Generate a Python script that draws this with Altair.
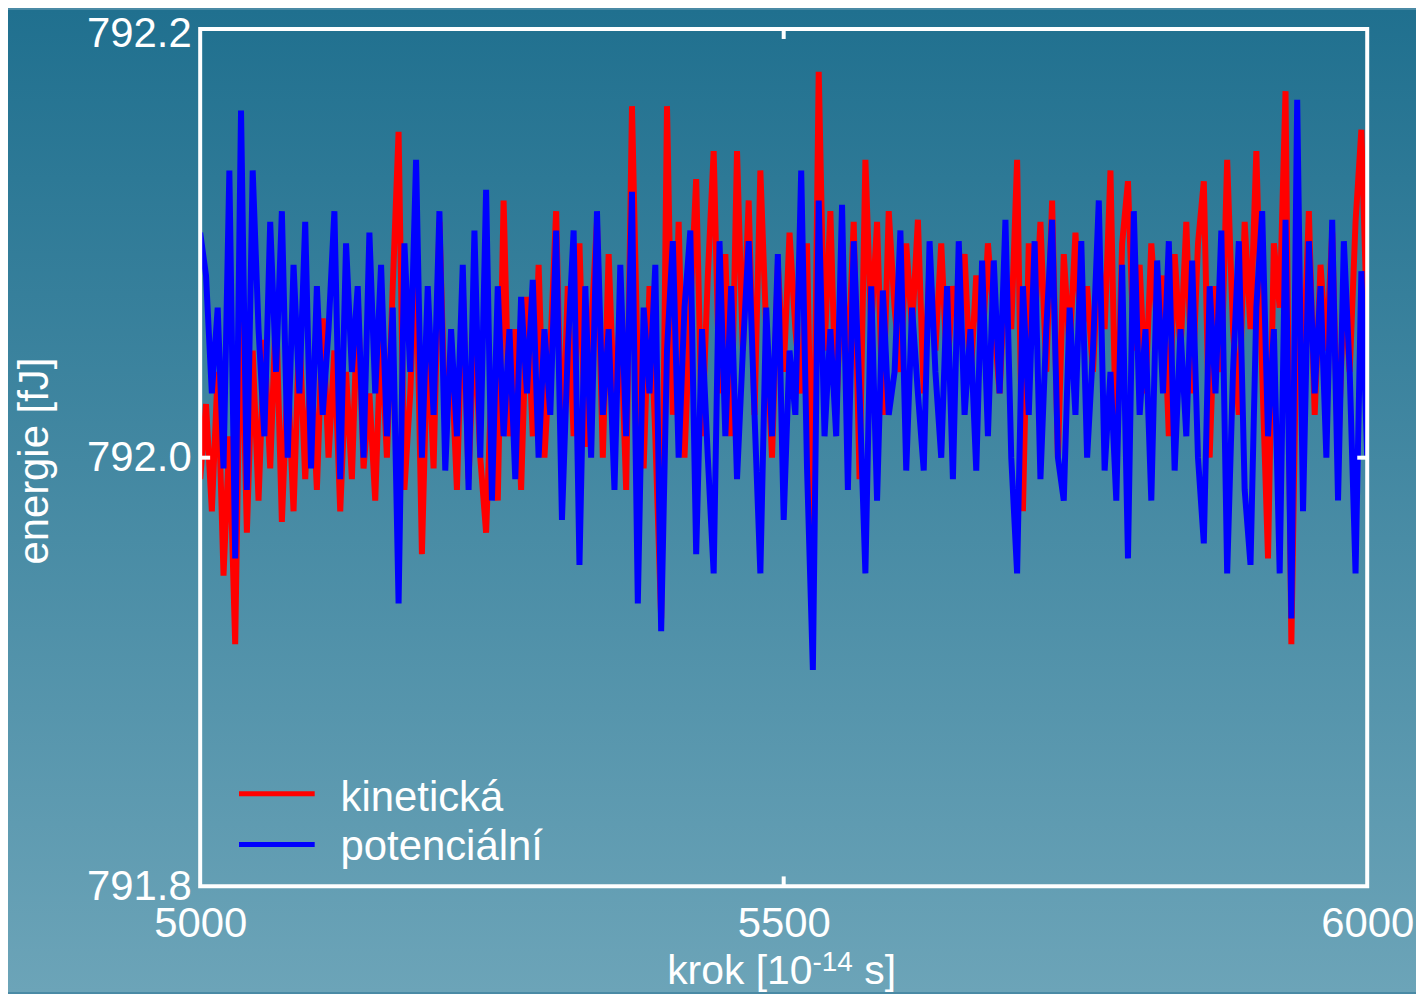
import altair as alt
import pandas as pd

# ---- data ----
kroky = list(range(5000, 6001, 5))

kineticka = [
    791.990, 792.025, 791.975, 792.040, 791.945, 792.010, 791.913, 792.085, 791.965, 792.050,
    791.980, 792.055, 791.995, 792.070, 791.970, 792.040, 791.975, 792.060, 791.990, 792.045,
    791.985, 792.065, 792.000, 792.050, 791.975, 792.040, 791.990, 792.075, 791.995, 792.030,
    791.980, 792.060, 792.000, 792.080, 792.152, 791.985, 792.030, 792.100, 791.955, 792.060,
    791.995, 792.110, 792.015, 792.050, 791.985, 792.080, 791.990, 792.065, 792.000, 791.965,
    792.040, 791.980, 792.120, 792.010, 792.060, 791.985, 792.075, 792.010, 792.090, 792.000,
    792.050, 792.115, 791.995, 792.080, 792.010, 792.100, 792.005, 792.060, 792.110, 792.000,
    792.095, 792.020, 792.070, 791.985, 792.164, 792.040, 791.995, 792.080, 792.010, 791.925,
    792.164, 792.020, 792.110, 792.000, 792.070, 792.130, 792.010, 792.085, 792.143, 792.030,
    792.095, 792.010, 792.143, 792.050, 792.120, 792.020, 792.134, 792.060, 792.000, 792.090,
    792.040, 792.105, 792.060, 792.030, 792.100, 791.955, 792.180, 792.050, 792.115, 792.020,
    792.090, 792.040, 792.110, 791.990, 792.139, 792.060, 792.110, 792.020, 792.115, 792.070,
    792.040, 792.100, 792.060, 792.111, 792.030, 792.090, 792.050, 792.100, 792.040, 792.080,
    792.060, 792.095, 792.035, 792.085, 792.050, 792.100, 792.065, 792.030, 792.090, 792.060,
    792.139, 791.975, 792.100, 792.060, 792.110, 792.040, 792.120, 792.000, 792.095, 792.050,
    792.105, 792.055, 792.080, 792.040, 792.095, 792.060, 792.134, 792.000, 792.100, 792.129,
    792.050, 792.090, 792.030, 792.100, 792.060, 792.085, 792.010, 792.095, 792.050, 792.110,
    792.030, 792.100, 792.129, 792.000, 792.080, 792.040, 792.139, 792.060, 792.020, 792.110,
    792.060, 792.143, 792.040, 791.953, 792.100, 792.070, 792.171, 791.913, 792.080, 792.040,
    792.115, 792.020, 792.090, 792.050, 792.105, 792.000, 792.080, 792.040, 792.110, 792.153,
    792.060,
]

potencialni = [
    792.105, 792.085, 792.030, 792.070, 791.995, 792.134, 791.953, 792.162, 791.985, 792.134,
    792.060, 792.010, 792.110, 792.040, 792.115, 792.000, 792.090, 792.030, 792.110, 791.995,
    792.080, 792.020, 792.060, 792.115, 791.990, 792.100, 792.040, 792.080, 792.000, 792.105,
    792.030, 792.090, 792.010, 792.070, 791.932, 792.100, 792.040, 792.139, 792.000, 792.080,
    792.020, 792.115, 791.994, 792.060, 792.010, 792.090, 791.985, 792.106, 792.000, 792.125,
    791.980, 792.080, 792.010, 792.060, 791.990, 792.075, 792.030, 792.083, 792.000, 792.060,
    792.020, 792.106, 791.971, 792.050, 792.106, 791.950, 792.080, 792.000, 792.115, 792.020,
    792.060, 791.985, 792.090, 792.010, 792.124, 791.932, 792.070, 792.030, 792.090, 791.919,
    792.050, 792.101, 792.000, 792.070, 792.106, 791.955, 792.060, 792.000, 791.946, 792.101,
    792.010, 792.080, 791.990, 792.050, 792.101, 792.020, 791.946, 792.070, 792.010, 792.095,
    791.971, 792.050, 792.020, 792.134, 791.995, 791.901, 792.120, 792.010, 792.060, 792.010,
    792.118, 791.985, 792.101, 792.030, 791.946, 792.080, 791.980, 792.078, 792.020, 792.040,
    792.106, 791.994, 792.070, 792.030, 791.994, 792.101, 792.040, 792.000, 792.080, 791.990,
    792.101, 792.020, 792.060, 791.994, 792.092, 792.010, 792.092, 792.030, 792.111, 792.000,
    791.946, 792.080, 792.020, 792.101, 791.990, 792.060, 792.111, 792.000, 791.980, 792.070,
    792.020, 792.101, 792.000, 792.050, 792.120, 791.994, 792.040, 791.980, 792.090, 791.953,
    792.115, 792.020, 792.060, 791.980, 792.092, 792.030, 792.101, 791.994, 792.060, 792.010,
    792.092, 792.000, 791.960, 792.080, 792.030, 792.106, 791.946, 792.040, 792.101, 791.985,
    791.950, 792.070, 792.115, 792.010, 792.060, 791.946, 792.111, 791.925, 792.167, 791.975,
    792.101, 792.030, 792.080, 792.000, 792.111, 791.980, 792.101, 792.040, 791.946, 792.087,
    792.000,
]

serie = ["kinetická", "potenciální"]
barvy = ["#ff0000", "#0000ff"]
x_ticks = [5000, 5500, 6000]
y_ticks = [791.8, 792.0, 792.2]

# ---- layout ----
FONT = "Liberation Sans"
W, H = 1172, 861
PL, PT, PR, PB = 193, 19, 49, 106

df = pd.DataFrame({
    "krok": kroky + kroky,
    "energie": kineticka + potencialni,
    "typ": [serie[0]] * len(kroky) + [serie[1]] * len(kroky),
})
one = pd.DataFrame({"a": [0]})

xs = alt.Scale(domain=[5000, 6000], nice=False, zero=False)
ys = alt.Scale(domain=[791.8, 792.2], nice=False, zero=False)

bg = alt.Chart(one).mark_rect(
    fill=alt.Gradient(
        gradient="linear",
        stops=[alt.GradientStop(color="#20708f", offset=0),
               alt.GradientStop(color="#6ca4b8", offset=1)],
        x1=0, x2=0, y1=0, y2=1,
    )
).encode(x=alt.value(-PL), x2=alt.value(W + PR), y=alt.value(-PT), y2=alt.value(H + PB))

xaxis = alt.Axis(values=x_ticks, format="d", title=None, labelFlush=False, domain=False,
                 ticks=False, grid=False, labelPadding=17, labelFontSize=42,
                 labelFont=FONT, labelColor="white", zindex=1, labelOverlap=False)
yaxis = alt.Axis(values=y_ticks, format=".1f", title=None, domain=False, ticks=False,
                 grid=False, labelPadding=9, labelFontSize=42, labelFont=FONT,
                 labelColor="white", zindex=1, labelOverlap=False,
                 labelOffset={"condition": {"test": "datum.value > 792.1", "value": 5}, "value": 0})

def series_layer(name, color):
    return alt.Chart(df).transform_filter(alt.datum.typ == name).mark_line(
        strokeWidth=6, color=color, clip=True
    ).encode(
        x=alt.X("krok:Q", scale=xs, axis=xaxis),
        y=alt.Y("energie:Q", scale=ys, axis=yaxis),
    )

red = series_layer(serie[0], barvy[0])
blue = series_layer(serie[1], barvy[1])

frame = alt.Chart(one).mark_rect(fillOpacity=0, stroke="white", strokeWidth=4).encode(
    x=alt.value(0), x2=alt.value(W), y=alt.value(0), y2=alt.value(H))

tx = pd.DataFrame({"krok": [5500]})
ty = pd.DataFrame({"energie": [792.0]})
tick_top = alt.Chart(tx).mark_rule(color="white", strokeWidth=4).encode(
    x=alt.X("krok:Q", scale=xs, axis=xaxis), y=alt.value(0), y2=alt.value(10))
tick_bot = alt.Chart(tx).mark_rule(color="white", strokeWidth=4).encode(
    x=alt.X("krok:Q", scale=xs, axis=xaxis), y=alt.value(H - 10), y2=alt.value(H))
tick_left = alt.Chart(ty).mark_rule(color="white", strokeWidth=4).encode(
    y=alt.Y("energie:Q", scale=ys, axis=yaxis), x=alt.value(0), x2=alt.value(10))
tick_right = alt.Chart(ty).mark_rule(color="white", strokeWidth=4).encode(
    y=alt.Y("energie:Q", scale=ys, axis=yaxis), x=alt.value(W - 10), x2=alt.value(W))

def txt(text, x, y, size=42, **kw):
    return alt.Chart(one).mark_text(text=text, font=FONT, fontSize=size, color="white", **kw).encode(
        x=alt.value(x), y=alt.value(y))

leg_r = alt.Chart(one).mark_rule(color=barvy[0], strokeWidth=5).encode(
    x=alt.value(39), x2=alt.value(115), y=alt.value(768))
leg_b = alt.Chart(one).mark_rule(color=barvy[1], strokeWidth=5).encode(
    x=alt.value(39), x2=alt.value(115), y=alt.value(819))
leg_t1 = txt(serie[0], 141, 785, align="left", baseline="alphabetic")
leg_t2 = txt(serie[1], 141, 835, align="left", baseline="alphabetic")

ytitle = txt("energie [fJ]", -166, 434, angle=270, align="center", baseline="middle")
TS = 41
xt1 = txt("krok [10", 469, 959, size=TS, align="left", baseline="alphabetic")
xt2 = txt("-14", 615, 946, size=28, align="left", baseline="alphabetic")
xt3 = txt("s]", 667, 959, size=TS, align="left", baseline="alphabetic")

chart = alt.layer(
    bg, red, blue, frame, tick_top, tick_bot, tick_left, tick_right,
    leg_r, leg_b, leg_t1, leg_t2, ytitle, xt1, xt2, xt3,
).properties(
    width=W, height=H,
    autosize=alt.AutoSizeParams(type="none"),
    padding={"left": PL, "top": PT, "right": PR, "bottom": PB},
).configure_view(stroke=None).configure(background="#4a8aa5")

chart.save("out.html", embed_options={"renderer": "svg", "actions": False})
